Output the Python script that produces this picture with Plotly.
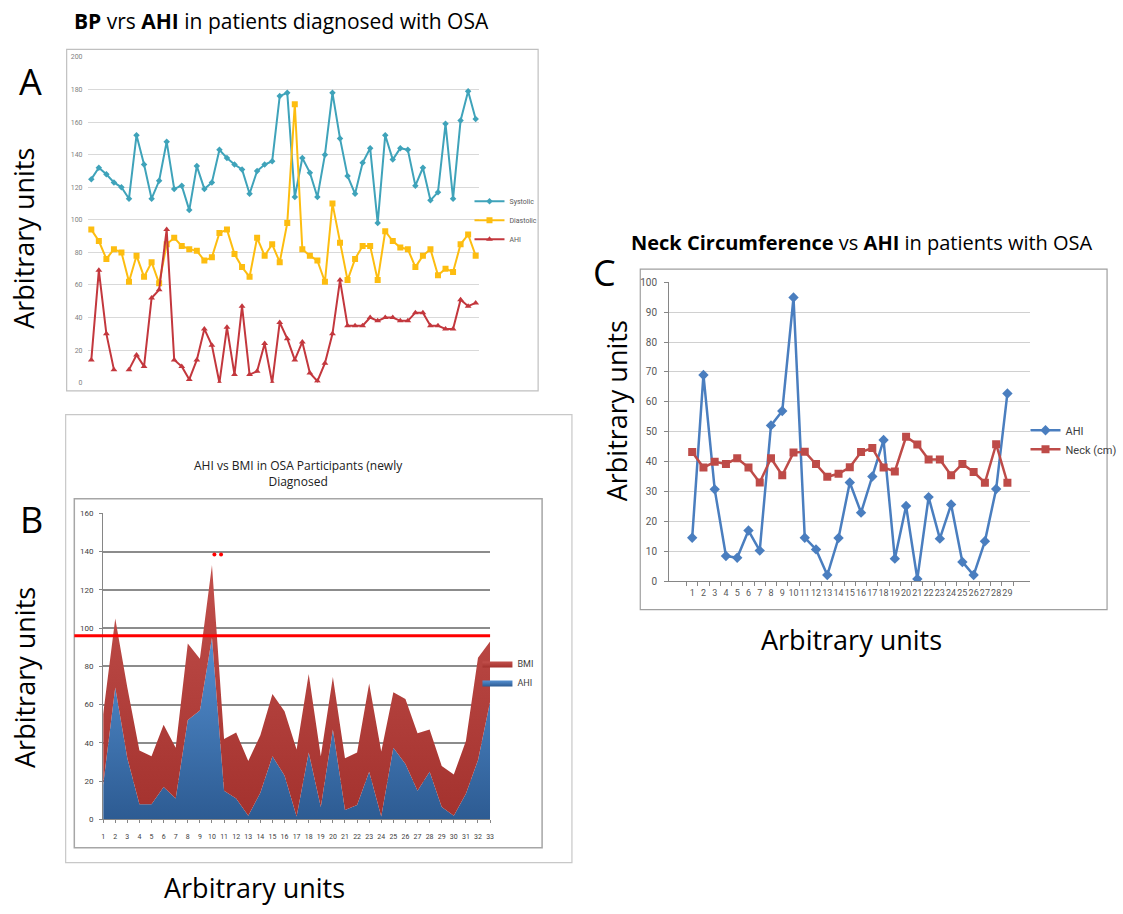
import plotly.graph_objects as go

W, H = 1123, 914


def px(x):
    return x / W


def py(y):
    return 1 - y / H


# ---------------- Panel A data: BP vrs AHI ----------------
a_patients = list(range(1, 53))
a_systolic = [125, 132, 128, 123, 120, 113, 152, 134, 113, 124, 148, 119, 121, 106, 133, 119, 123, 143,
              138, 134, 131, 116, 130, 134, 136, 176, 178, 114, 138, 129, 114, 140, 178, 150, 127, 116,
              135, 144, 98, 152, 137, 144, 143, 121, 132, 112, 117, 159, 113, 161, 179, 162]
a_diastolic = [94, 87, 76, 82, 80, 62, 78, 65, 74, 61, 85, 89, 84, 82, 81, 75, 77, 92, 94, 79, 71, 65,
               89, 78, 85, 74, 98, 171, 82, 78, 75, 62, 110, 86, 63, 76, 84, 84, 63, 93, 87, 83, 82, 71,
               78, 82, 66, 70, 68, 85, 91, 78]
a_ahi = [14, 69, 30, 8, None, 8, 17, 10, 52, 57, 94, 14, 10, 2, 14, 33, 23, 0, 34, 5, 47, 5, 7, 24, 0,
         37, 27, 14, 25, 6, 1, 12, 30, 63, 35, 35, 35, 40, 38, 40, 40, 38, 38, 43, 43, 35, 35, 33, 33,
         51, 47, 49]
a_yticks = list(range(0, 201, 20))

# ---------------- Panel B data: AHI vs BMI ----------------
b_participants = list(range(1, 34))
b_ahi = [18, 69, 32, 8, 8, 17, 11, 52, 57, 95, 15, 11, 2, 14, 33, 23, 1.5, 35, 6.5, 47, 5, 7.5, 25,
         1.5, 37.5, 29, 15, 25, 6.5, 2, 13.5, 31, 61.5]
b_bmi = [37, 36, 37, 28, 25, 32.5, 26.5, 40, 27, 38, 27, 34.5, 28.5, 30, 32.5, 33.5, 35, 41, 26.5, 27.5,
         27, 27.5, 46, 34, 29, 34, 30, 22, 21.5, 21.5, 27.5, 53.5, 31.5]
b_threshold = 96
b_sig_x = [10.2, 10.75, 33.6]
b_sig_y = [138.4, 138.4, 97.7]
b_yticks = list(range(0, 161, 20))

# ---------------- Panel C data: Neck circumference vs AHI ----------------
c_patients = [str(i) for i in range(1, 30)]
c_ahi = [14.5, 69, 30.7, 8.4, 7.8, 16.9, 10.2, 52.1, 56.9, 94.9, 14.5, 10.6, 2, 14.4, 33, 22.9, 35,
         47.2, 7.5, 25.1, 0.7, 28.1, 14.2, 25.6, 6.4, 2, 13.3, 30.8, 62.8]
c_neck = [43.2, 38, 39.9, 39.2, 41.1, 38, 33, 41.1, 35.4, 43, 43.3, 39.2, 34.9, 35.9, 38.1, 43.2, 44.5,
          38, 36.7, 48.3, 45.7, 40.7, 40.7, 35.4, 39.2, 36.5, 32.9, 45.8, 32.9]
c_yticks = list(range(0, 101, 10))

TEAL = "#3FA3BA"
GOLD = "#FDBD10"
RED_A = "#C3373D"
BLUE_C = "#4A7EBF"
RED_C = "#BE4B48"

fig = go.Figure()

# ---- Panel A traces ----
fig.add_trace(go.Scatter(x=a_patients, y=a_systolic, name="Systolic", mode="lines+markers",
                         line=dict(color=TEAL, width=2), marker=dict(symbol="diamond", size=5, color=TEAL),
                         xaxis="x", yaxis="y", legend="legend"))
fig.add_trace(go.Scatter(x=a_patients, y=a_diastolic, name="Diastolic", mode="lines+markers",
                         line=dict(color=GOLD, width=2), marker=dict(symbol="square", size=6, color=GOLD),
                         xaxis="x", yaxis="y", legend="legend"))
fig.add_trace(go.Scatter(x=a_patients, y=a_ahi, name="AHI", mode="lines+markers",
                         line=dict(color=RED_A, width=2), marker=dict(symbol="triangle-up", size=6, color=RED_A),
                         connectgaps=False, xaxis="x", yaxis="y", legend="legend"))

# ---- Panel B traces (stacked area) ----
fig.add_trace(go.Scatter(x=b_participants, y=b_ahi, name="AHI", mode="lines", stackgroup="b",
                         line=dict(width=0, color="#3F76B8"),
                         fillgradient=dict(type="vertical", start=0, stop=95,
                                           colorscale=[[0, "#2C5A91"], [1, "#548FD0"]]),
                         xaxis="x2", yaxis="y2", legend="legend2"))
fig.add_trace(go.Scatter(x=b_participants, y=b_bmi, name="BMI", mode="lines", stackgroup="b",
                         line=dict(width=0, color="#B9403C"),
                         fillgradient=dict(type="vertical", start=0, stop=135,
                                           colorscale=[[0, "#A3312D"], [1, "#C2504C"]]),
                         xaxis="x2", yaxis="y2", legend="legend2"))
fig.add_trace(go.Scatter(x=b_sig_x, y=b_sig_y, mode="markers", showlegend=False,
                         marker=dict(color="#FF0000", size=4), cliponaxis=False,
                         xaxis="x2", yaxis="y2", hoverinfo="skip"))

# ---- Panel C traces ----
fig.add_trace(go.Scatter(x=c_patients, y=c_ahi, name="AHI", mode="lines+markers",
                         line=dict(color=BLUE_C, width=2.5), marker=dict(symbol="diamond", size=8, color=BLUE_C),
                         xaxis="x3", yaxis="y3", legend="legend3"))
fig.add_trace(go.Scatter(x=c_patients, y=c_neck, name="Neck (cm)", mode="lines+markers",
                         line=dict(color=RED_C, width=2.5), marker=dict(symbol="square", size=8, color=RED_C),
                         xaxis="x3", yaxis="y3", legend="legend3"))

TICKFONT = "Roboto, Open Sans, sans-serif"

fig.update_layout(
    width=W, height=H, autosize=False,
    margin=dict(l=0, r=0, t=0, b=0),
    paper_bgcolor="white", plot_bgcolor="rgba(0,0,0,0)",
    font=dict(family="Open Sans, sans-serif", color="#000000"),
    # Panel A axes
    xaxis=dict(domain=[px(86), px(480)], range=[0.5, 52.5], anchor="y", showgrid=False,
               showticklabels=False, zeroline=False, showline=False, ticks=""),
    yaxis=dict(domain=[py(381.7), py(51.7)], range=[0, 200], anchor="x", tickvals=a_yticks,
               showgrid=True, gridcolor="#D9D9D9", gridwidth=1, zeroline=False, showline=False,
               ticks="", ticklabelstandoff=4, tickfont=dict(size=7, color="#7F7F7F", family=TICKFONT)),
    # Panel B axes
    xaxis2=dict(domain=[px(101.7), px(490.7)], range=[1, 33], anchor="y2", tickmode="linear", tick0=1,
                dtick=1, showgrid=False, zeroline=False, showline=True, linecolor="#868686", linewidth=1,
                ticks="outside", ticklen=3, tickcolor="#868686", ticklabelstandoff=7, tickangle=0,
                tickfont=dict(size=7, color="#404040", family=TICKFONT)),
    yaxis2=dict(domain=[py(824.3), py(514)], range=[0, 160], anchor="x2", tickvals=b_yticks,
                showgrid=True, gridcolor="#8C8C8C", gridwidth=1.5, zeroline=False, showline=True,
                linecolor="#868686", linewidth=1, ticks="outside", ticklen=3, tickcolor="#868686",
                ticklabelstandoff=4, tickfont=dict(size=8, color="#404040", family=TICKFONT)),
    # Panel C axes
    xaxis3=dict(domain=[px(670.7), px(1034)], type="category", anchor="y3", tickson="boundaries",
                tickmode="array", tickvals=c_patients, ticktext=c_patients,
                showgrid=False, zeroline=False, showline=True, linecolor="#868686", linewidth=1,
                ticks="outside", ticklen=4, tickcolor="#868686", tickangle=0, ticklabelstandoff=3,
                tickfont=dict(size=9, color="#595959", family=TICKFONT)),
    yaxis3=dict(domain=[py(582.7), py(280)], range=[0, 100], anchor="x3", tickvals=c_yticks,
                showgrid=True, gridcolor="#D0D0D0", gridwidth=1, zeroline=False, showline=True,
                linecolor="#868686", linewidth=1, ticks="outside", ticklen=4, tickcolor="#868686",
                ticklabelstandoff=5, tickfont=dict(size=10, color="#595959", family=TICKFONT)),
    legend=dict(x=px(470), y=py(217), xanchor="left", yanchor="middle", bgcolor="rgba(0,0,0,0)",
                font=dict(size=7, color="#595959", family=TICKFONT), itemwidth=30),
    legend2=dict(x=px(478), y=py(676), xanchor="left", yanchor="middle", bgcolor="rgba(0,0,0,0)",
                 traceorder="reversed", font=dict(size=9, color="#404040", family=TICKFONT), itemwidth=30),
    legend3=dict(x=px(1029), y=py(439.5), xanchor="left", yanchor="middle", bgcolor="rgba(0,0,0,0)",
                 font=dict(size=11, color="#404040", family=TICKFONT), itemwidth=30),
)

shapes = [
    # panel frames
    dict(type="rect", xref="paper", yref="paper", x0=px(65), x1=px(539), y0=py(390), y1=py(44),
         line=dict(color="#C0C0C0", width=1.2), layer="below"),
    dict(type="rect", xref="paper", yref="paper", x0=px(64), x1=px(573), y0=py(868), y1=py(414),
         line=dict(color="#C8C8C8", width=1.2), layer="below"),
    dict(type="rect", xref="paper", yref="paper", x0=px(72.7), x1=px(543), y0=py(853), y1=py(499.3),
         line=dict(color="#A6A6A6", width=1.5), layer="below"),
    dict(type="rect", xref="paper", yref="paper", x0=px(641.7), x1=px(1111), y0=py(611.7), y1=py(266.7),
         line=dict(color="#A0A0A0", width=1.2), layer="below"),
    # threshold line in panel B
    dict(type="line", xref="paper", yref="y2", x0=px(72.7), x1=px(490.7), y0=b_threshold, y1=b_threshold,
         line=dict(color="#FF0000", width=3), layer="above"),
]
fig.update_layout(shapes=shapes)

BIG = 27
annotations = [
    dict(text="<b>BP</b> vrs <b>AHI</b> in patients diagnosed with OSA", x=px(281.5), y=py(15),
         font=dict(size=21, color="#000000")),
    dict(text="<b>Neck Circumference</b> vs <b>AHI</b> in patients with OSA", x=px(864.7), y=py(240),
         font=dict(size=20, color="#000000")),
    dict(text="AHI vs BMI in OSA Participants (newly<br>Diagnosed", x=px(298), y=py(474),
         font=dict(size=12, color="#202020")),
    dict(text="A", x=px(29), y=py(76), font=dict(size=36)),
    dict(text="B", x=px(30), y=py(520), font=dict(size=36)),
    dict(text="C", x=px(606), y=py(270), font=dict(size=36)),
    dict(text="Arbitrary units", x=px(22), y=py(235), textangle=-90, font=dict(size=BIG)),
    dict(text="Arbitrary units", x=px(22), y=py(680), textangle=-90, font=dict(size=BIG)),
    dict(text="Arbitrary units", x=px(618), y=py(410), textangle=-90, font=dict(size=BIG)),
    dict(text="Arbitrary units", x=px(254), y=py(893), font=dict(size=BIG)),
    dict(text="Arbitrary units", x=px(854), y=py(642), font=dict(size=BIG)),
]
for a in annotations:
    a.update(xref="paper", yref="paper", showarrow=False, xanchor="center", yanchor="middle")
fig.update_layout(annotations=annotations)

fig.write_html("out.html")
